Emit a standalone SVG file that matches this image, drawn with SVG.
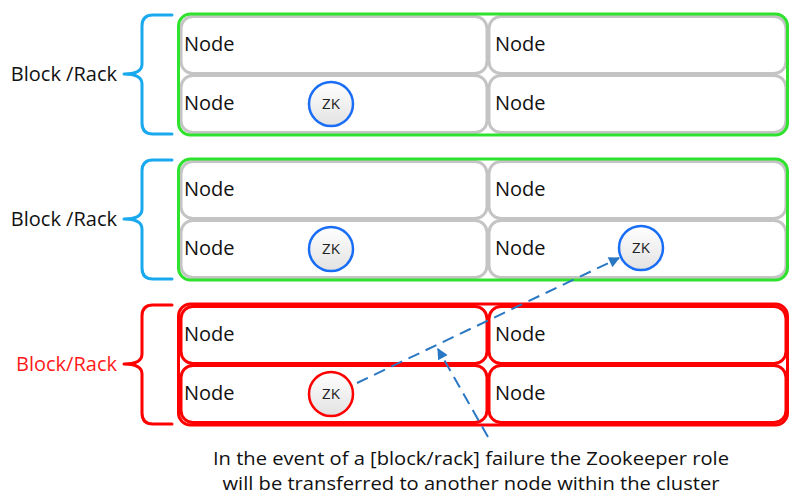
<svg xmlns="http://www.w3.org/2000/svg" width="789" height="496" viewBox="0 0 789 496">
<defs>
<style>
.lbl{font-family:"Open Sans","Liberation Sans",Arial,sans-serif;font-size:20px;fill:#111}
.lb{text-anchor:end}
.note{font-family:"Open Sans","Liberation Sans",Arial,sans-serif;font-size:18.5px;fill:#111;text-anchor:middle}
.node{font-family:"Open Sans","Liberation Sans",Arial,sans-serif;font-size:20px;fill:#111}
.zk{font-family:"Open Sans","Liberation Sans",Arial,sans-serif;font-size:15px;fill:#222;text-anchor:middle}
.cell{fill:#fff;stroke:#c4c4c4;stroke-width:3}
.cellr{fill:#fff;stroke:#ff0000;stroke-width:3}
.blk{fill:none;stroke:#2ee22e;stroke-width:3}
.blkr{fill:none;stroke:#ff0000;stroke-width:3}
.brace{fill:none;stroke:#1aa9ee;stroke-width:3;stroke-linecap:round;stroke-linejoin:round}
.bracer{fill:none;stroke:#ff0000;stroke-width:3;stroke-linecap:round;stroke-linejoin:round}
.zkc{fill:url(#zg);stroke:#1a6ef5;stroke-width:2.5}
.zkcr{fill:url(#zg);stroke:#ff0000;stroke-width:2.5}
.arr{fill:none;stroke:#2a78c4;stroke-width:2;stroke-dasharray:12 7}
</style>
<linearGradient id="zg" x1="0" y1="0" x2="0" y2="1">
<stop offset="0" stop-color="#ffffff"/>
<stop offset="1" stop-color="#e2e2e2"/>
</linearGradient>
<marker id="ah2" viewBox="0 0 10 10" refX="9" refY="5" markerWidth="13" markerHeight="11" orient="auto" markerUnits="userSpaceOnUse">
<path d="M0,0 L10,5 L0,10 z" fill="#2a78c4"/>
</marker>
</defs>

<g id="block1">
<text class="lbl lb" x="117" y="81">Block /Rack</text>
<path class="brace" d="M172 15 H153 Q142 15 142 26 V64 Q142 74 124 74 Q142 74 142 84 V123 Q142 134 153 134 H172"/>
<g id="b1n1"><rect class="cell" x="181" y="16.5" width="306" height="57" rx="12"/><text class="node" x="184" y="51">Node</text></g>
<g id="b1n2"><rect class="cell" x="489" y="16.5" width="297" height="57" rx="12"/><text class="node" x="495" y="51">Node</text></g>
<g id="b1n3"><rect class="cell" x="181" y="75.5" width="306" height="57" rx="12"/><text class="node" x="184" y="110">Node</text>
<circle class="zkc" cx="331" cy="104" r="22"/><text class="zk" x="331" y="109">ZK</text></g>
<g id="b1n4"><rect class="cell" x="489" y="75.5" width="297" height="57" rx="12"/><text class="node" x="495" y="110">Node</text></g>
<rect class="blk" x="178.5" y="14" width="609" height="121" rx="12"/>
</g>

<g id="block2">
<text class="lbl lb" x="117" y="226">Block /Rack</text>
<path class="brace" d="M172 160 H153 Q142 160 142 171 V209 Q142 219 124 219 Q142 219 142 229 V268 Q142 279 153 279 H172"/>
<g id="b2n1"><rect class="cell" x="181" y="161.5" width="306" height="57" rx="12"/><text class="node" x="184" y="196">Node</text></g>
<g id="b2n2"><rect class="cell" x="489" y="161.5" width="297" height="57" rx="12"/><text class="node" x="495" y="196">Node</text></g>
<g id="b2n3"><rect class="cell" x="181" y="220.5" width="306" height="57" rx="12"/><text class="node" x="184" y="255">Node</text>
<circle class="zkc" cx="331" cy="249" r="22"/><text class="zk" x="331" y="254">ZK</text></g>
<g id="b2n4"><rect class="cell" x="489" y="220.5" width="297" height="57" rx="12"/><text class="node" x="495" y="255">Node</text>
<circle class="zkc" cx="641" cy="248" r="22"/><text class="zk" x="641" y="253">ZK</text></g>
<rect class="blk" x="178.5" y="159" width="609" height="121" rx="12"/>
</g>

<g id="block3">
<text class="lbl lb" x="117" y="371" style="fill:#ff1a1a">Block/Rack</text>
<path class="bracer" d="M172 305 H153 Q142 305 142 316 V354 Q142 364 124 364 Q142 364 142 374 V413 Q142 424 153 424 H172"/>
<g id="b3n1"><rect class="cellr" x="181" y="306.5" width="306" height="57" rx="12"/><text class="node" x="184" y="341">Node</text></g>
<g id="b3n2"><rect class="cellr" x="489" y="306.5" width="297" height="57" rx="12"/><text class="node" x="495" y="341">Node</text></g>
<g id="b3n3"><rect class="cellr" x="181" y="365.5" width="306" height="57" rx="12"/><text class="node" x="184" y="400">Node</text>
<circle class="zkcr" cx="331" cy="394" r="22"/><text class="zk" x="331" y="399">ZK</text></g>
<g id="b3n4"><rect class="cellr" x="489" y="365.5" width="297" height="57" rx="12"/><text class="node" x="495" y="400">Node</text></g>
<rect class="blkr" x="178.5" y="304" width="609" height="121" rx="12"/>
</g>

<g id="connectors">
<line class="arr" x1="357" y1="383" x2="619" y2="258" marker-end="url(#ah2)"/>
<line class="arr" x1="488" y1="437" x2="438" y2="349" marker-end="url(#ah2)"/>
</g>

<g id="note">
<text class="note" x="471" y="465" textLength="516" lengthAdjust="spacingAndGlyphs">In the event of a [block/rack] failure the Zookeeper role</text>
<text class="note" x="471" y="490" textLength="497" lengthAdjust="spacingAndGlyphs">will be transferred to another node within the cluster</text>
</g>
</svg>
